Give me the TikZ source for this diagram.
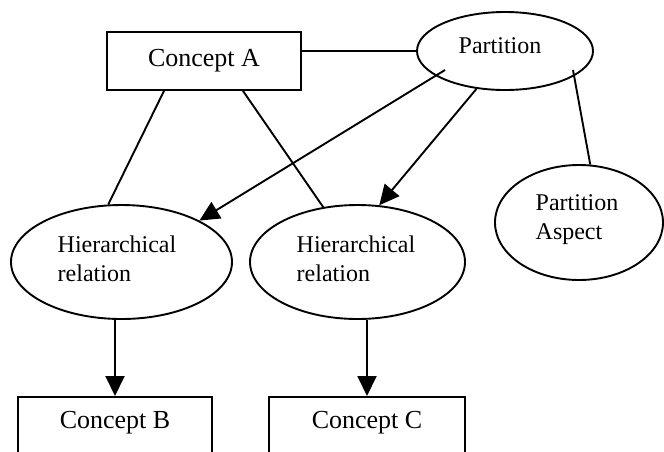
\documentclass[tikz,border=0pt]{standalone}
\usepackage{fontspec}
\setmainfont{Liberation Serif}
\usetikzlibrary{arrows.meta,calc,shapes.geometric}
\begin{document}
\begin{tikzpicture}[x=1pt,y=-1pt,
  line width=1.9pt,
  conceptbox/.style={draw,rectangle,inner sep=0pt,font=\fontsize{26}{30}\selectfont},
  relnode/.style={draw,ellipse,inner sep=0pt,align=left,font=\fontsize{24}{28}\selectfont},
  link/.style={draw},
  arrowlink/.style={draw,-{Triangle[length=20pt,width=19pt]}}]
\useasboundingbox (0,0) rectangle (664,451);
\clip (0,0) rectangle (664,451);
\fill[white] (0,0) rectangle (664,451);
% nodes
\node[conceptbox,minimum width=194pt,minimum height=58pt] (A) at (204,61) {Concept A};
\node[relnode,minimum width=176pt,minimum height=78pt] (P) at (505,51) {};
\node[font=\fontsize{24}{28}\selectfont] (Pt) at (500,46) {Partition};
\node[relnode,minimum width=221pt,minimum height=114pt] (H1) at (121.5,262) {};
\node[font=\fontsize{24}{29}\selectfont,align=left] (H1t) at (117,259) {Hierarchical\\relation};
\node[relnode,minimum width=215pt,minimum height=114pt] (H2) at (357.5,262) {};
\node[font=\fontsize{24}{29}\selectfont,align=left] (H2t) at (356,259) {Hierarchical\\relation};
\node[relnode,minimum width=168pt,minimum height=115pt] (PA) at (579,222.5) {};
\node[font=\fontsize{24}{29}\selectfont,align=left] (PAt) at (577,220) {Partition\\Aspect};
\node[conceptbox,minimum width=194pt,minimum height=58pt,anchor=north] (B) at (115,396) {};
\node[font=\fontsize{26}{30}\selectfont] (Bt) at (115,423) {Concept B};
\node[conceptbox,minimum width=196pt,minimum height=58pt,anchor=north] (C) at (367,396) {};
\node[font=\fontsize{26}{30}\selectfont] (Ct) at (367,423) {Concept C};
% connectors
\draw[link] (P.west) -- (P.west -| A.east);
\draw[link] ($(A.south)+(-40,0)$) -- (H1.103);
\draw[link] ($(A.south)+(39,0)$) -- (H2.122);
\draw[arrowlink] ($(P.center)+(-60,19)$) -- (H1.28);
\draw[arrowlink] (P.233) -- (H2.69);
\draw[link] ($(P.center)+(68,19)$) -- (PA.79);
\draw[arrowlink] (B.north |- H1.south) -- (B.north);
\draw[arrowlink] (C.north |- H2.south) -- (C.north);
\end{tikzpicture}
\end{document}
